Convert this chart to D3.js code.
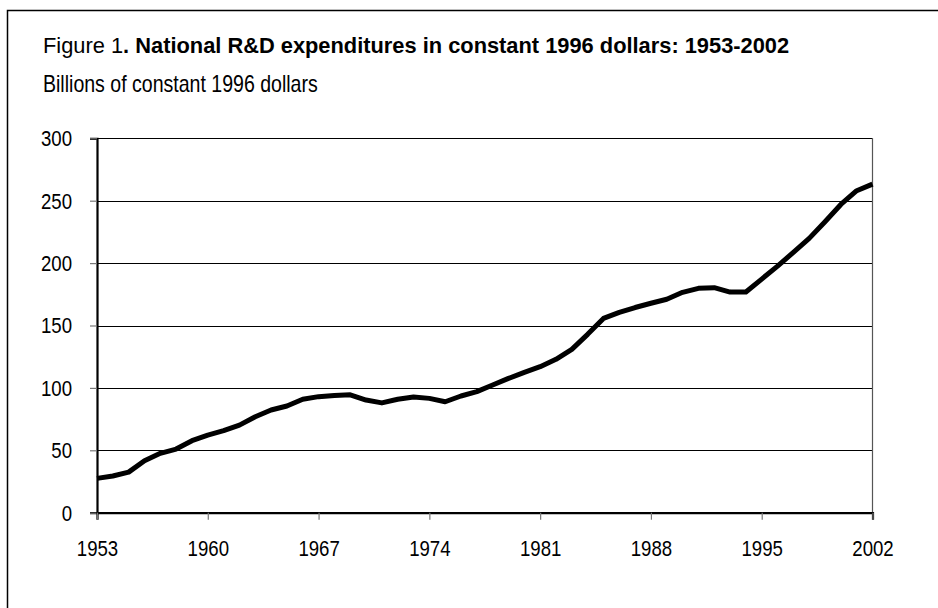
<!DOCTYPE html>
<html>
<head>
<meta charset="utf-8">
<script src="https://cdn.jsdelivr.net/npm/d3@7"></script>
<style>
  html, body { margin: 0; padding: 0; background: #fff; }
  svg text { font-family: "Liberation Sans", Arial, sans-serif; fill: #000; }
</style>
</head>
<body>
<svg id="chart" width="938" height="608"></svg>
<script>
// values (billions of constant 1996 dollars)
const years = d3.range(1953, 2003);
const spending = [
  27.5, 29.4, 32.5, 41.7, 47.6, 51.0, 57.7, 62.2, 65.7, 70.2,
  76.9, 82.3, 85.5, 90.9, 93.0, 94.0, 94.5, 90.3, 88.0, 90.9,
  92.7, 91.6, 88.9, 93.5, 97.0, 102.3, 107.6, 112.5, 117.0, 122.9,
  130.9, 142.9, 155.7, 160.5, 164.4, 167.8, 171.0, 176.6, 179.8, 180.3,
  176.8, 176.8, 187.2, 197.6, 208.6, 219.8, 233.1, 247.0, 258.0, 263.3
];
const xTicks = [1953, 1960, 1967, 1974, 1981, 1988, 1995, 2002];
const yTicks = [0, 50, 100, 150, 200, 250, 300];

// the original uses a narrow face; squeeze Liberation Sans to fit
const narrow = 0.81;

const svg = d3.select("#chart");

// outer frame (runs off the right and bottom edge)
svg.append("rect")
    .attr("x", 7.5).attr("y", 10.5)
    .attr("width", 1000).attr("height", 700)
    .attr("fill", "none")
    .attr("stroke", "#000")
    .attr("stroke-width", 1.5);

// titles
const title = svg.append("text")
    .attr("transform", "translate(43,53) scale(0.993,1)")
    .style("font-size", "22px");
title.append("tspan").text("Figure 1");
title.append("tspan").style("font-weight", "bold")
    .text(". National R&D expenditures in constant 1996 dollars: 1953-2002");

svg.append("text")
    .attr("transform", "translate(43,92) scale(0.85,1)")
    .style("font-size", "23px")
    .text("Billions of constant 1996 dollars");

const x = d3.scaleLinear().domain([1953, 2002]).range([97, 872.5]);
const y = d3.scaleLinear().domain([0, 300]).range([512.7, 138.3]);

// gridlines
svg.append("g")
    .selectAll("line")
    .data(yTicks.filter(d => d > 0))
    .enter()
    .append("line")
    .attr("x1", x(1953))
    .attr("x2", x(2002))
    .attr("y1", d => Math.round(y(d)) + 0.5)
    .attr("y2", d => Math.round(y(d)) + 0.5)
    .attr("stroke", "#000")
    .attr("stroke-width", 1.2);

// right edge of plot area
svg.append("line")
    .attr("x1", x(2002)).attr("x2", x(2002))
    .attr("y1", y(300)).attr("y2", y(0))
    .attr("stroke", "#555")
    .attr("stroke-width", 1.2);

// axes
const yAxis = svg.append("g")
    .attr("transform", `translate(${x(1953)},0)`)
    .call(d3.axisLeft(y).tickValues(yTicks).tickSize(7).tickPadding(18));

const xAxis = svg.append("g")
    .attr("transform", `translate(0,${y(0)})`)
    .call(d3.axisBottom(x).tickValues(xTicks).tickFormat(d3.format("d")).tickSize(7).tickPadding(20));

[yAxis, xAxis].forEach(a => {
    a.select(".domain").attr("stroke", "#000").attr("stroke-width", 2.2);
    a.selectAll(".tick line").attr("stroke", "#777").attr("stroke-width", 1.2);
    a.selectAll(".tick text")
        .style("font-size", "23px")
        .attr("fill", "#000")
        .each(function() {
            const t = d3.select(this);
            const tx = +t.attr("x") || 0;
            const ty = +t.attr("y") || 0;
            t.attr("x", 0).attr("y", 0)
             .attr("transform", `translate(${tx},${ty}) scale(${narrow},1)`);
        });
});

// data line
const line = d3.line()
    .x((d, i) => x(years[i]))
    .y(d => y(d));

svg.append("path")
    .datum(spending)
    .attr("d", line)
    .attr("fill", "none")
    .attr("stroke", "#000")
    .attr("stroke-width", 5)
    .attr("stroke-linejoin", "round");
</script>
</body>
</html>
